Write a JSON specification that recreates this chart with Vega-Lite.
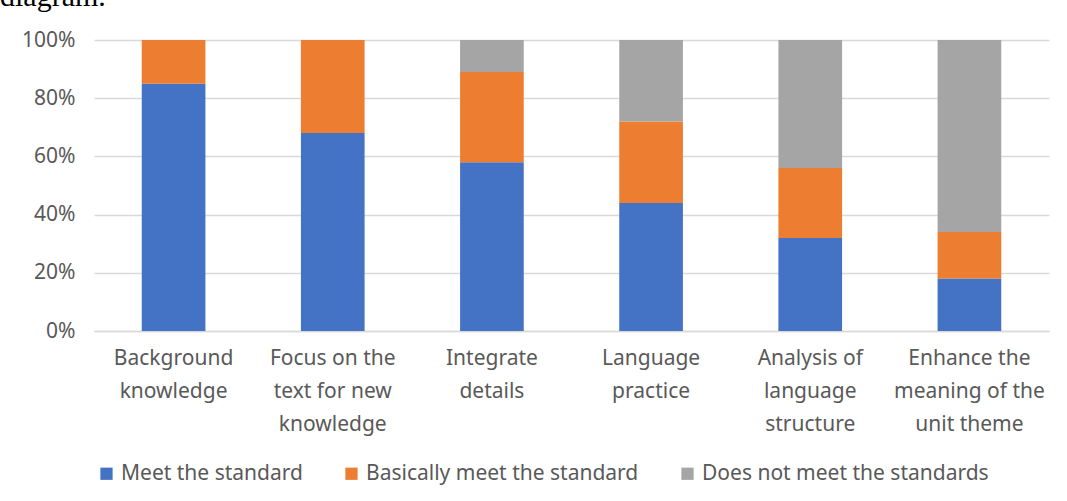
{
  "$schema": "https://vega.github.io/schema/vega-lite/v6.json",
  "autosize": "none",
  "width": 955,
  "height": 291,
  "padding": {"left": 94, "top": 40, "right": 18, "bottom": 170},
  "background": "white",
  "title": {
    "text": "diagram.",
    "anchor": "start",
    "font": "Liberation Serif",
    "fontSize": 30,
    "fontWeight": "normal",
    "color": "black",
    "baseline": "alphabetic",
    "frame": "group",
    "dx": -94,
    "offset": 0,
    "dy": 7
  },
  "data": {
    "values": [
      {"category": "Background knowledge", "level": "Meet the standard", "k": 1, "value": 85},
      {"category": "Background knowledge", "level": "Basically meet the standard", "k": 2, "value": 15},
      {"category": "Background knowledge", "level": "Does not meet the standards", "k": 3, "value": 0},
      {"category": "Focus on the text for new knowledge", "level": "Meet the standard", "k": 1, "value": 68},
      {"category": "Focus on the text for new knowledge", "level": "Basically meet the standard", "k": 2, "value": 32},
      {"category": "Focus on the text for new knowledge", "level": "Does not meet the standards", "k": 3, "value": 0},
      {"category": "Integrate details", "level": "Meet the standard", "k": 1, "value": 58},
      {"category": "Integrate details", "level": "Basically meet the standard", "k": 2, "value": 31},
      {"category": "Integrate details", "level": "Does not meet the standards", "k": 3, "value": 11},
      {"category": "Language practice", "level": "Meet the standard", "k": 1, "value": 44},
      {"category": "Language practice", "level": "Basically meet the standard", "k": 2, "value": 28},
      {"category": "Language practice", "level": "Does not meet the standards", "k": 3, "value": 28},
      {"category": "Analysis of language structure", "level": "Meet the standard", "k": 1, "value": 32},
      {"category": "Analysis of language structure", "level": "Basically meet the standard", "k": 2, "value": 24},
      {"category": "Analysis of language structure", "level": "Does not meet the standards", "k": 3, "value": 44},
      {"category": "Enhance the meaning of the unit theme", "level": "Meet the standard", "k": 1, "value": 18},
      {"category": "Enhance the meaning of the unit theme", "level": "Basically meet the standard", "k": 2, "value": 16},
      {"category": "Enhance the meaning of the unit theme", "level": "Does not meet the standards", "k": 3, "value": 66}
    ]
  },
  "mark": {"type": "bar"},
  "encoding": {
    "x": {
      "field": "category",
      "type": "nominal",
      "sort": null,
      "scale": {"paddingInner": 0.6, "paddingOuter": 0.3},
      "axis": {
        "title": null,
        "labelAngle": 0,
        "ticks": false,
        "domain": true,
        "domainColor": "#d9d9d9",
        "domainWidth": 1.5,
        "labelPadding": 16,
        "labelFont": "Noto Sans",
        "labelFontSize": 21,
        "labelColor": "#595959",
        "labelLineHeight": 33,
        "labelBaseline": "top",
        "labelLimit": 300,
        "labelExpr": "{'Background knowledge':['Background','knowledge'],'Focus on the text for new knowledge':['Focus on the','text for new','knowledge'],'Integrate details':['Integrate','details'],'Language practice':['Language','practice'],'Analysis of language structure':['Analysis of','language','structure'],'Enhance the meaning of the unit theme':['Enhance the','meaning of the','unit theme']}[datum.value]"
      }
    },
    "y": {
      "field": "value",
      "type": "quantitative",
      "stack": "normalize",
      "scale": {"domain": [0, 1], "nice": false},
      "axis": {
        "title": null,
        "format": ".0%",
        "values": [0, 0.2, 0.4, 0.6, 0.8, 1],
        "domain": false,
        "ticks": false,
        "grid": true,
        "gridColor": "#d9d9d9",
        "gridWidth": 1.3,
        "labelPadding": 19,
        "labelFont": "Noto Sans",
        "labelFontSize": 21,
        "labelColor": "#595959"
      }
    },
    "order": {"field": "k", "type": "quantitative", "sort": "ascending"},
    "color": {
      "field": "level",
      "type": "nominal",
      "sort": ["Meet the standard", "Basically meet the standard", "Does not meet the standards"],
      "scale": {
        "domain": ["Meet the standard", "Basically meet the standard", "Does not meet the standards"],
        "range": ["#4472C4", "#ED7D31", "#A5A5A5"]
      },
      "legend": {
        "title": null,
        "orient": "none",
        "direction": "horizontal",
        "legendX": 2,
        "legendY": 423,
        "symbolType": "square",
        "symbolSize": 150,
        "symbolStrokeWidth": 0,
        "labelFont": "Noto Sans",
        "labelFontSize": 21,
        "labelColor": "#595959",
        "labelOffset": 4,
        "labelLimit": 400,
        "columnPadding": 38
      }
    }
  },
  "config": {
    "view": {"stroke": null}
  }
}
